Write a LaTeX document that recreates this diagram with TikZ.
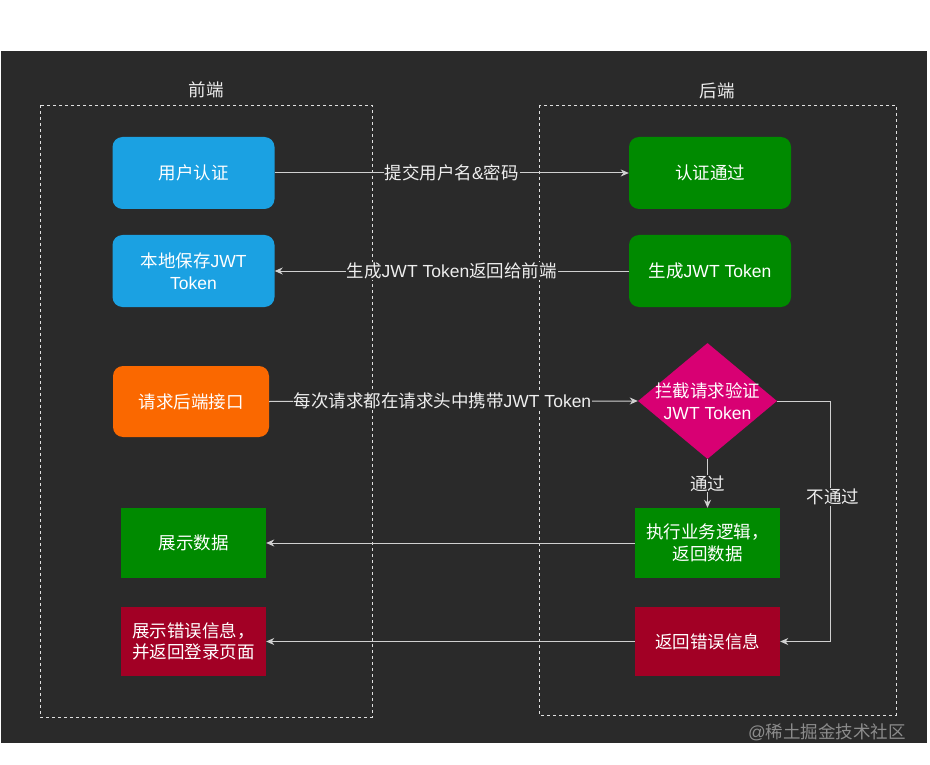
\documentclass[tikz,border=0pt]{standalone}
\usepackage{fontspec}
\setmainfont{Liberation Sans}
\newfontfamily\cjkfont{Noto Sans CJK SC}
\usetikzlibrary{arrows.meta,shapes.geometric}
\newcommand\zh[1]{{\cjkfont #1}}
\definecolor{bg}{HTML}{2A2A2A}
\definecolor{cblue}{HTML}{1BA1E2}
\definecolor{cgreen}{HTML}{008A00}
\definecolor{corange}{HTML}{FA6800}
\definecolor{cmag}{HTML}{D80073}
\definecolor{cred}{HTML}{A20025}
\definecolor{linec}{HTML}{D0D0D0}
\definecolor{labelc}{HTML}{EEEEEE}
\definecolor{wmark}{HTML}{8C8C8C}
\tikzset{
  txt/.style={font=\fontsize{17.5}{21.5}\selectfont, align=center},
  box/.style={txt, minimum width=162pt, minimum height=72pt, inner sep=0pt, text=white},
  rbox/.style={box, rounded corners=10pt},
  sbox/.style={box, minimum width=145pt, minimum height=70pt},
  conn/.style={draw=linec, line width=1pt, -{Stealth[length=8pt,width=7pt,inset=2.5pt]}},
  elabel/.style={txt, fill=bg, text=labelc, inner sep=1pt},
  dashbox/.style={draw=white!88!black, dash pattern=on 3pt off 3pt, line width=0.9pt},
  title/.style={txt, text=labelc, inner sep=0pt}
}
\begin{document}
\begin{tikzpicture}[x=1pt,y=-1pt]
\useasboundingbox (0,0) rectangle (930,765);
\fill[white] (0,0) rectangle (930,765);
\fill[bg] (1,51) rectangle (927,743);

% containers
\draw[dashbox] (40,105) rectangle (372,717);
\draw[dashbox] (539,105) rectangle (896,715);
\node[title] (front) at (206,90) {\zh{前端}};
\node[title] (back) at (717,91) {\zh{后端}};

% front end nodes
\node[rbox, fill=cblue] (ua) at (193.5,173) {\zh{用户认证}};
\node[rbox, fill=cblue] (save) at (193.5,271) {\zh{本地保存}JWT\\Token};
\node[rbox, fill=corange, minimum width=156pt, minimum height=71pt] (req) at (191,401.5) {\zh{请求后端接口}};
\node[sbox, fill=cgreen] (show) at (193.5,543) {\zh{展示数据}};
\node[sbox, fill=cred, minimum height=69pt] (showerr) at (193.5,641.5) {\zh{展示错误信息，}\\\zh{并返回登录页面}};

% back end nodes
\node[rbox, fill=cgreen] (ok) at (710,173) {\zh{认证通过}};
\node[rbox, fill=cgreen] (gen) at (710,271) {\zh{生成}JWT Token};
\node[diamond, fill=cmag, minimum width=139pt, minimum height=116pt, inner sep=0pt] (dia) at (707.5,401) {};
\node[txt, text=white, inner sep=0pt] (diatxt) at (dia.center) {\zh{拦截请求验证}\\JWT Token};
\node[sbox, fill=cgreen] (exec) at (707.5,543) {\zh{执行业务逻辑，}\\\zh{返回数据}};
\node[sbox, fill=cred, minimum height=69pt] (err) at (707.5,641.5) {\zh{返回错误信息}};

% connectors
\draw[conn] (ua.east) -- node[elabel] (l1) {\zh{提交用户名}\&\zh{密码}} (ok.west);
\draw[conn] (gen.west) -- node[elabel] (l2) {\zh{生成}JWT Token\zh{返回给前端}} (save.east);
\draw[conn] (req.east) -- node[elabel, pos=0.47] (l3) {\zh{每次请求都在请求头中携带}JWT Token} (dia.west);
\draw[conn] (dia.south) -- node[elabel, pos=0.5] (l4) {\zh{通过}} (exec.north);
\coordinate (bend) at (830,401);
\draw[conn] (dia.east) -- (bend) |- (err.east);
\node[elabel] (l5) at (833,497) {\zh{不通过}};
\draw[conn] (exec.west) -- (show.east);
\draw[conn] (err.west) -- (showerr.east);

% watermark
\node[txt, text=wmark, inner sep=0pt, anchor=east] (wm) at (906,732) {@\zh{稀土掘金技术社区}};
\end{tikzpicture}
\end{document}
